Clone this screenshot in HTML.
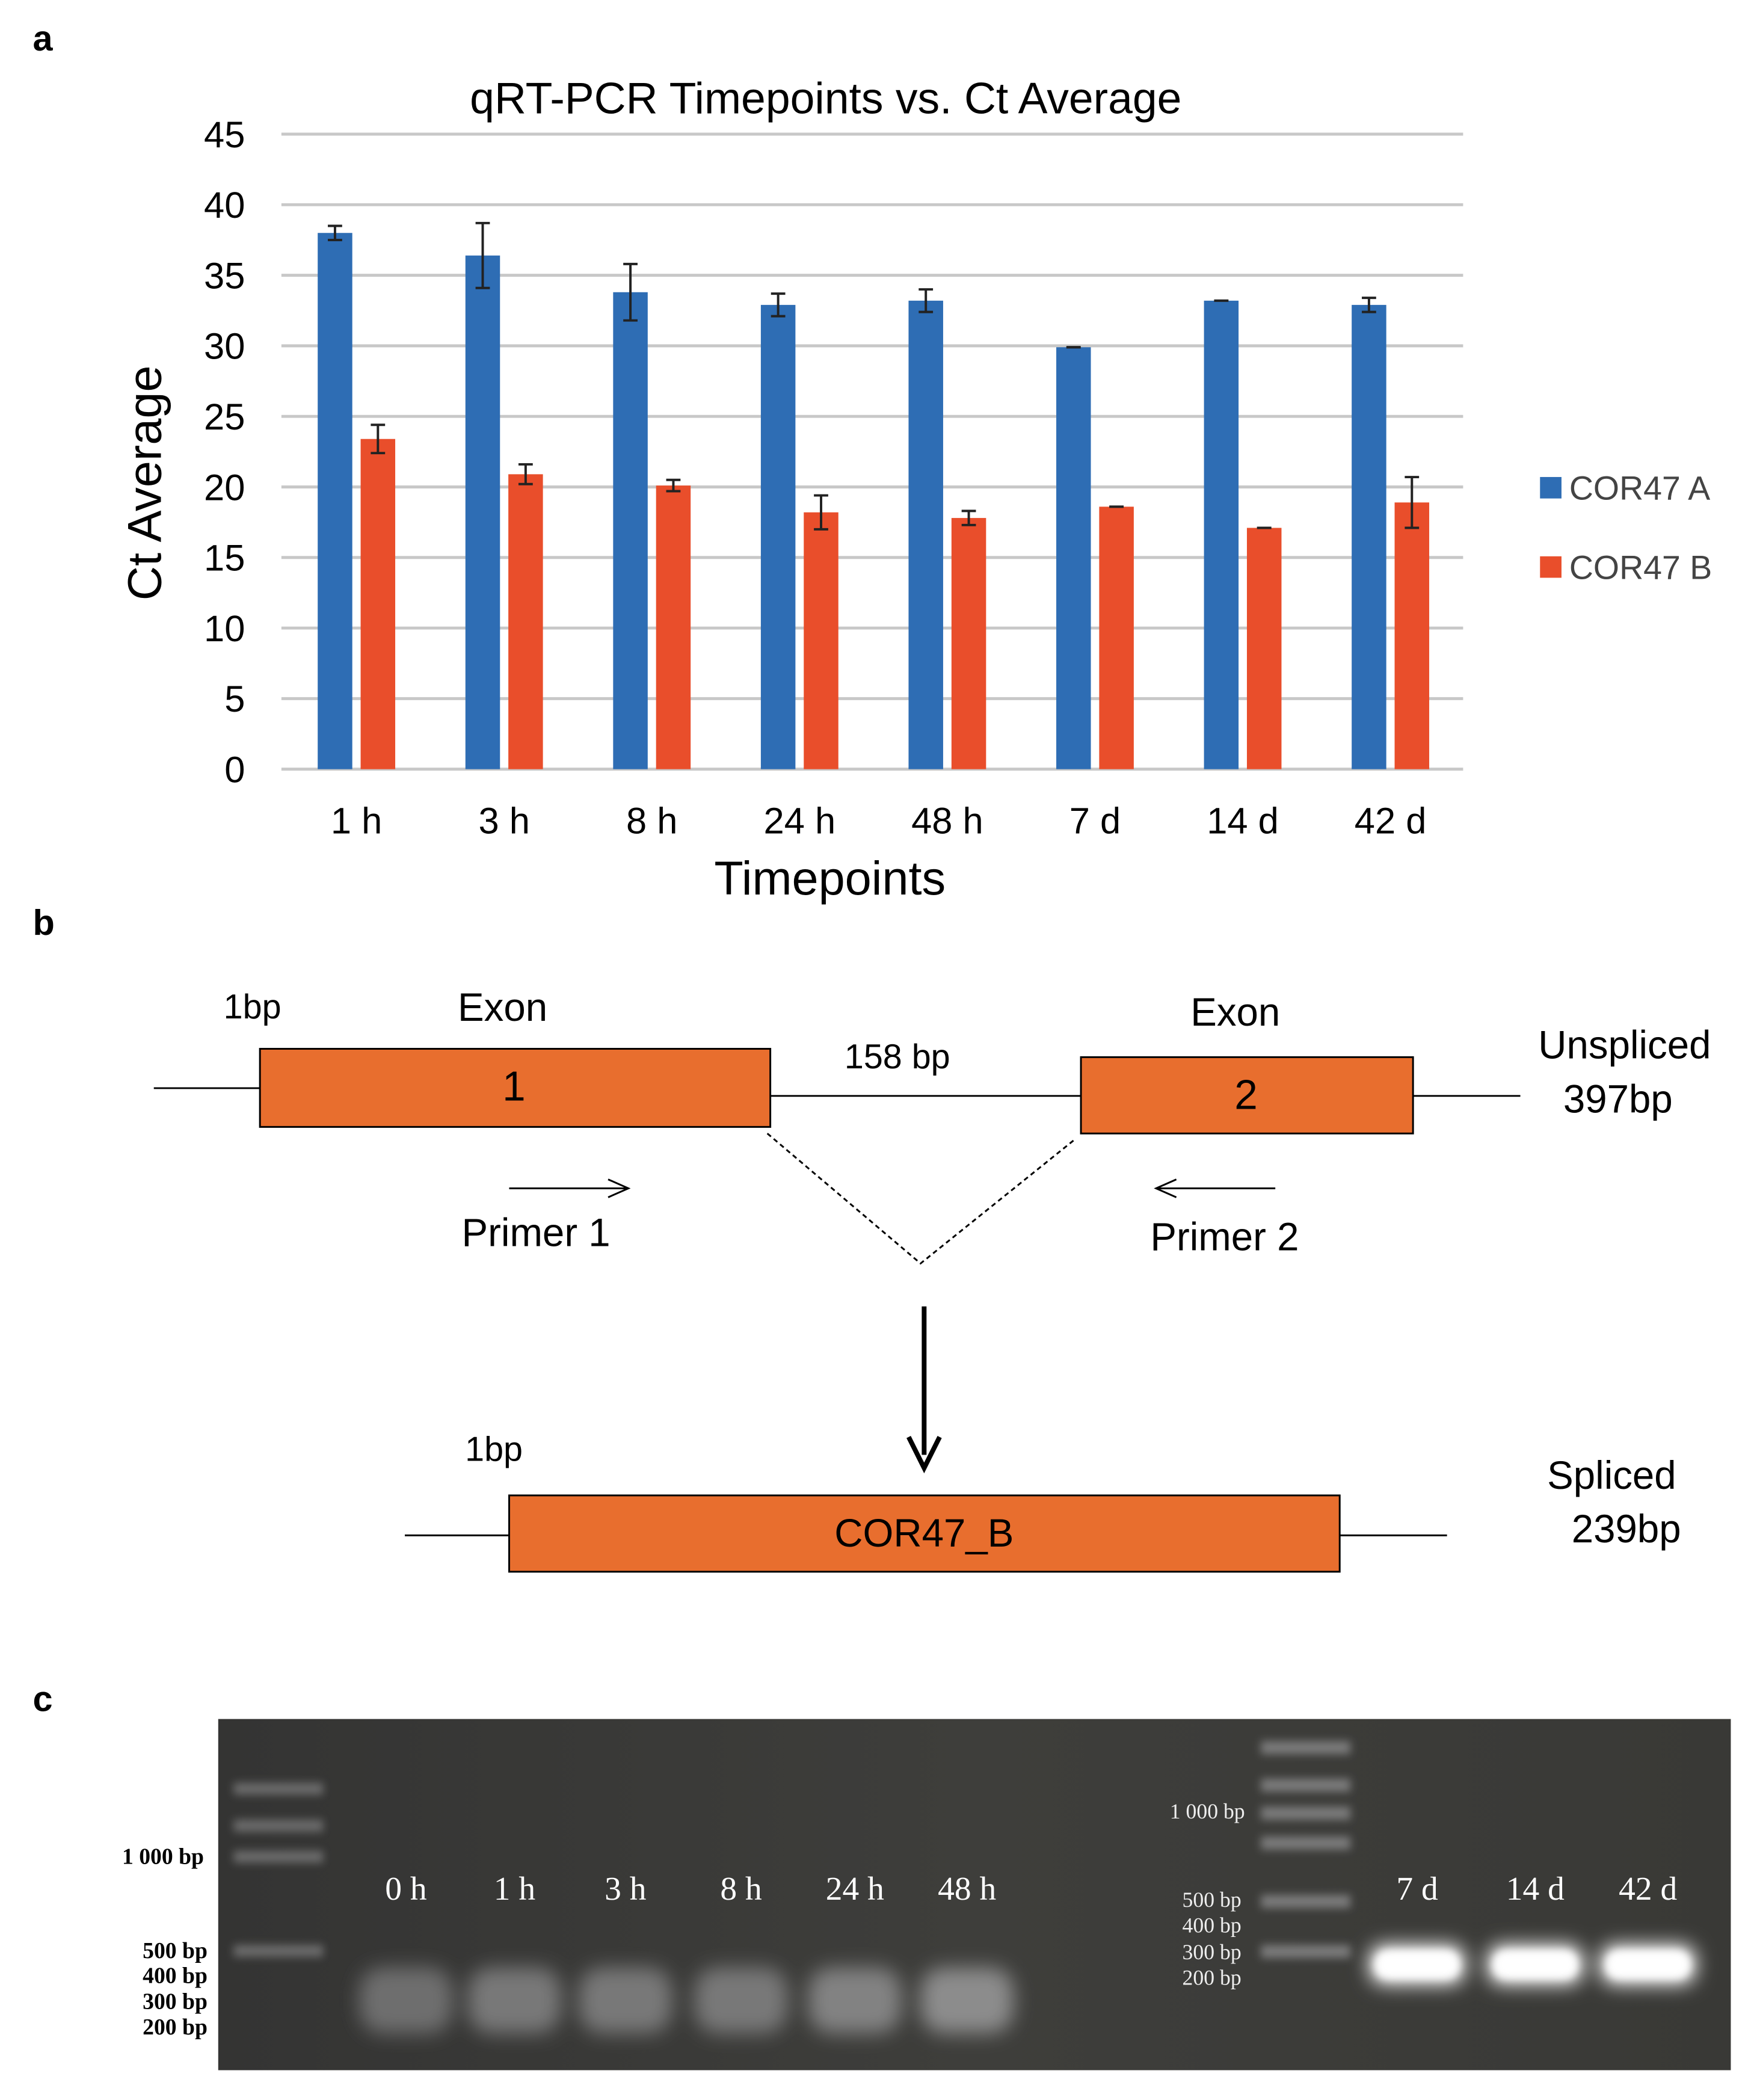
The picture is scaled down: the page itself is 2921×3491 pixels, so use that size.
<!DOCTYPE html>
<html><head><meta charset="utf-8"><style>
html,body{margin:0;padding:0;background:#fff}
svg{display:block}
</style></head><body>
<svg id="fig" width="2921" height="3491" viewBox="0 0 2921 3491" xmlns="http://www.w3.org/2000/svg" font-family="Liberation Sans, sans-serif">
<defs>
<filter id="blur" x="-50%" y="-50%" width="200%" height="200%"><feGaussianBlur stdDeviation="16"/></filter>
<filter id="blur2" x="-50%" y="-50%" width="200%" height="200%"><feGaussianBlur stdDeviation="7"/></filter>
<linearGradient id="gelbg" x1="0" x2="1"><stop offset="0" stop-color="#343433"/><stop offset="0.5" stop-color="#3e3e3b"/><stop offset="1" stop-color="#393936"/></linearGradient>
</defs>
<g transform="scale(0.9912)">
<text x="55" y="85" font-size="60" font-weight="bold">a</text>
<text x="1385" y="190" font-size="74" text-anchor="middle">qRT-PCR Timepoints vs. Ct Average</text>
<g id="grid"></g>
<g id="yticks"></g>
<g id="bars"></g>
<g id="xticks"></g>
<text transform="translate(270,810) rotate(-90)" font-size="80" text-anchor="middle">Ct Average</text>
<text x="1392" y="1500" font-size="80" text-anchor="middle">Timepoints</text>
<g>
<rect x="2583" y="800" width="36" height="36" fill="#2e6db4"/>
<text x="2632" y="838" font-size="56" fill="#444">COR47 A</text>
<rect x="2583" y="933" width="36" height="36" fill="#e94e2b"/>
<text x="2632" y="971" font-size="56" fill="#444">COR47 B</text>
</g>

<text x="55" y="1568" font-size="60" font-weight="bold">b</text>
<g stroke="#000" stroke-width="3">
<line x1="258" y1="1825" x2="436" y2="1825"/>
<line x1="1292" y1="1838" x2="1813" y2="1838"/>
<line x1="2370" y1="1838" x2="2550" y2="1838"/>
<rect x="436" y="1759" width="856" height="131" fill="#e86e2e"/>
<rect x="1813" y="1773" width="557" height="128" fill="#e86e2e"/>
<polyline points="1287,1901 1544,2119 1804,1910" fill="none" stroke-dasharray="8,6"/>
<line x1="854" y1="1993" x2="1050" y2="1993"/>
<polyline points="1020,1978 1054,1993 1020,2008" fill="none"/>
<line x1="1943" y1="1993" x2="2139" y2="1993"/>
<polyline points="1973,1978 1939,1993 1973,2008" fill="none"/>
<line x1="1550" y1="2191" x2="1550" y2="2440" stroke-width="8"/>
<polyline points="1524,2410 1550,2462 1576,2410" fill="none" stroke-width="8"/>
<line x1="679" y1="2575" x2="854" y2="2575"/>
<line x1="2247" y1="2575" x2="2427" y2="2575"/>
<rect x="854" y="2508" width="1393" height="128" fill="#e86e2e"/>
</g>
<g font-size="62">
<text x="375" y="1708" font-size="58">1bp</text>
<text x="843" y="1712" text-anchor="middle" font-size="66">Exon</text>
<text x="862" y="1846" text-anchor="middle" font-size="70">1</text>
<text x="1505" y="1792" text-anchor="middle" font-size="58">158 bp</text>
<text x="2072" y="1720" text-anchor="middle" font-size="66">Exon</text>
<text x="2090" y="1860" text-anchor="middle" font-size="70">2</text>
<text x="2580" y="1775" font-size="66">Unspliced</text>
<text x="2622" y="1866" font-size="66">397bp</text>
<text x="899" y="2090" text-anchor="middle" font-size="66">Primer 1</text>
<text x="2054" y="2097" text-anchor="middle" font-size="66">Primer 2</text>
<text x="780" y="2450" font-size="58">1bp</text>
<text x="1550" y="2594" text-anchor="middle" font-size="66">COR47_B</text>
<text x="2595" y="2497" font-size="66">Spliced</text>
<text x="2636" y="2587" font-size="66">239bp</text>
</g>

<text x="55" y="2870" font-size="60" font-weight="bold">c</text>
<g>
<rect x="366" y="2883" width="2537" height="589" fill="url(#gelbg)"/>
<g id="gel" filter="url(#blur2)"></g>
<g id="gelb" filter="url(#blur)"></g>
</g>
<g font-family="Liberation Serif, serif">
<g font-size="38" font-weight="bold" text-anchor="end" fill="#000">
<text x="342" y="3126">1 000 bp</text><text x="348" y="3284">500 bp</text><text x="348" y="3326">400 bp</text><text x="348" y="3369">300 bp</text><text x="348" y="3412">200 bp</text>
</g>
<g font-size="36" text-anchor="end" fill="#eee">
<text x="2088" y="3050">1 000 bp</text><text x="2082" y="3198">500 bp</text><text x="2082" y="3241">400 bp</text><text x="2082" y="3286">300 bp</text><text x="2082" y="3329">200 bp</text>
</g>
<g id="lanes" font-size="56" text-anchor="middle" fill="#fff"></g>
</g>
</g>
</svg>
<script>
const categories=["1 h","3 h","8 h","24 h","48 h","7 d","14 d","42 d"];
const seriesA=[38.0,36.4,33.8,32.9,33.2,29.9,33.2,32.9];
const errA=[0.5,2.3,2.0,0.8,0.8,0.0,0.0,0.5];
const seriesB=[23.4,20.9,20.1,18.2,17.8,18.6,17.1,18.9];
const errB=[1.0,0.7,0.4,1.2,0.5,0.0,0.0,1.8];
const yTicks=[0,5,10,15,20,25,30,35,40,45];
const laneLabels=["0 h","1 h","3 h","8 h","24 h","48 h","7 d","14 d","42 d"];
const laneBrightness=[0.55,0.6,0.6,0.6,0.65,0.7,1,1,0.95];

const NS="http://www.w3.org/2000/svg";
function mk(tag,attrs,parent,text){const e=document.createElementNS(NS,tag);for(const k in attrs)e.setAttribute(k,attrs[k]);if(text!==undefined)e.textContent=text;parent.appendChild(e);return e;}
const y0=1290,y45=225,xL=472,xR=2454;
const yScale=v=>y0-(v/45)*(y0-y45);
const step=(xR-xL)/categories.length;
const xCenter=i=>xL+step*(i+0.5)+2;
const grid=document.getElementById('grid'),yt=document.getElementById('yticks'),bars=document.getElementById('bars'),xt=document.getElementById('xticks');
yTicks.forEach(v=>{
 const l=mk('line',{x1:xL,x2:xR,y1:yScale(v),y2:yScale(v),stroke:'#c8c8c8','stroke-width':5},grid);
 
 
 const t=mk('text',{x:411,y:yScale(v)+22,'font-size':62,'text-anchor':'end'},yt,String(v));
 
 
});
const bw=58,gap=14;
function bar(i,v,e,col,dx,name){
 const x=xCenter(i)+dx;
 const r=mk('rect',{x:x-bw/2,y:yScale(v),width:bw,height:y0-yScale(v),fill:col},bars);
 
 
 const g=mk('g',{stroke:'#222','stroke-width':4},bars);
 
 
 mk('line',{x1:x,x2:x,y1:yScale(v+e),y2:yScale(v-e)},g);
 mk('line',{x1:x-12,x2:x+12,y1:yScale(v+e),y2:yScale(v+e)},g);
 mk('line',{x1:x-12,x2:x+12,y1:yScale(v-e),y2:yScale(v-e)},g);
}
categories.forEach((c,i)=>{
 bar(i,seriesA[i],errA[i],'#2e6db4',-(bw+gap)/2,'bar-cor47a');
 bar(i,seriesB[i],errB[i],'#e94e2b',(bw+gap)/2,'bar-cor47b');
 const t=mk('text',{x:xCenter(i),y:1398,'font-size':62,'text-anchor':'middle'},xt,c);
 
 
});
const gel=document.getElementById('gel'),gelb=document.getElementById('gelb'),lanes=document.getElementById('lanes');
const laneX=[681,863,1049,1243,1434,1622,2377,2575,2764];
[3000,3062,3114,3272].forEach(y=>mk('rect',{x:392,y:y-10,width:150,height:20,fill:'#6a6a6a'},gel));
[2930,2993,3040,3090,3188,3272].forEach(y=>mk('rect',{x:2115,y:y-10,width:150,height:22,fill:'#7a7a7a'},gel));
laneLabels.forEach((l,i)=>{
 const t=mk('text',{x:laneX[i],y:3186},lanes,l);
 
 
 const b=laneBrightness[i];
 if(i<6){mk('rect',{x:laneX[i]-78,y:3300,width:156,height:110,rx:40,fill:'rgb('+Math.round(200*b)+','+Math.round(200*b)+','+Math.round(200*b)+')'},gelb);}
 else{mk('rect',{x:laneX[i]-80,y:3262,width:160,height:66,rx:25,fill:'#fff'},gelb);mk('rect',{x:laneX[i]-70,y:3272,width:140,height:46,rx:20,fill:'#fff'},gel);}
});
</script>
</body></html>
